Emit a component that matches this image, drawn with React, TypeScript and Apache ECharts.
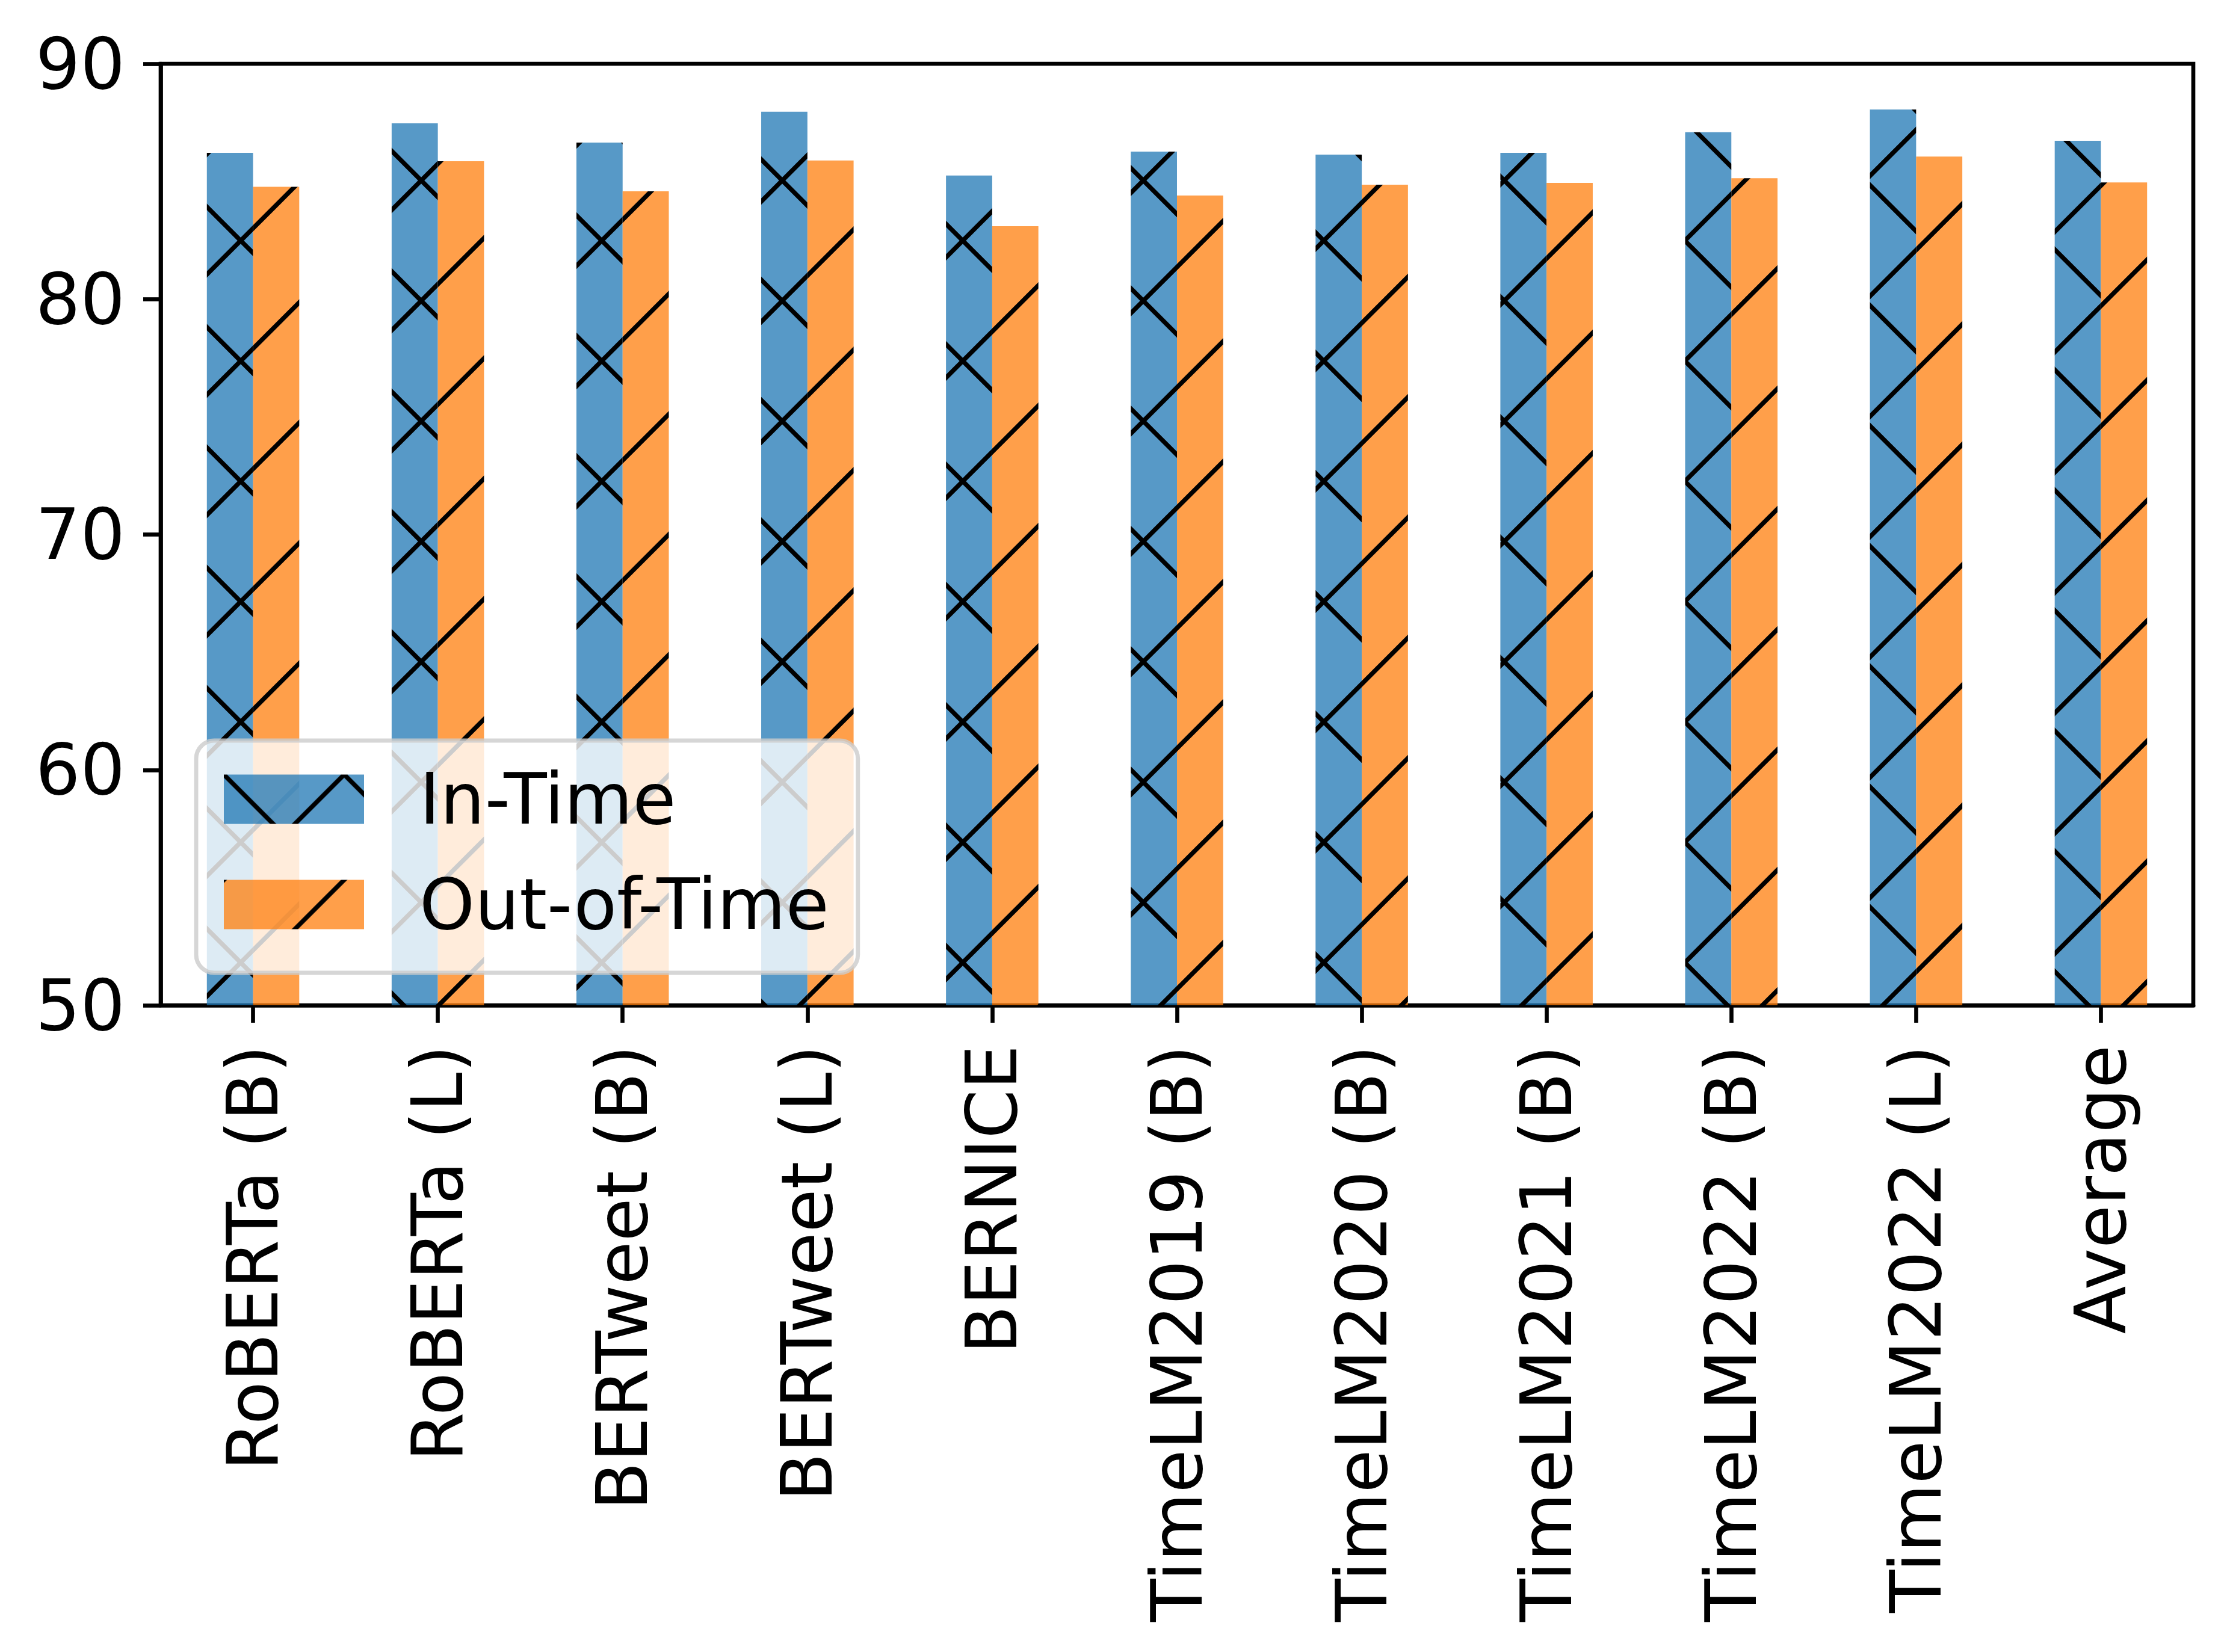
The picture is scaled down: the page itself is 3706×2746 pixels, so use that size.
import React, { useEffect, useRef } from "react";
import * as echarts from "echarts";

const categories = [
  "RoBERTa (B)",
  "RoBERTa (L)",
  "BERTweet (B)",
  "BERTweet (L)",
  "BERNICE",
  "TimeLM2019 (B)",
  "TimeLM2020 (B)",
  "TimeLM2021 (B)",
  "TimeLM2022 (B)",
  "TimeLM2022 (L)",
  "Average",
];
const inTime = [86.22, 87.47, 86.65, 87.96, 85.25, 86.27, 86.14, 86.22, 87.09, 88.06, 86.73];
const outOfTime = [84.77, 85.86, 84.58, 85.89, 83.1, 84.4, 84.86, 84.94, 85.14, 86.06, 84.96];
const seriesNames = ["In-Time", "Out-of-Time"];
const yTicks = [50, 60, 70, 80, 90];

const W = 3706;
const H = 2746;
const FONT = "DejaVu Sans";
const FS = 117;
const SPINE = 6.67;
const TILE = 200;

function hatchTile(fill: string, cross: boolean): string {
  const t = TILE;
  const lw = 7.5;
  const segs: string[] = [];
  // family x + y = e (up-right lines)
  for (const e of [0, t, 2 * t]) {
    segs.push(`M${-20},${e + 20} L${t + 20},${e - t - 20}`);
  }
  if (cross) {
    // family y = x + c (down-right lines)
    for (const c of [-t, 0, t]) {
      segs.push(`M${-20},${c - 20} L${t + 20},${c + t + 20}`);
    }
  }
  const svg =
    `<svg xmlns="http://www.w3.org/2000/svg" width="${t}" height="${t}" viewBox="0 0 ${t} ${t}">` +
    `<rect x="0" y="0" width="${t}" height="${t}" fill="${fill}"/>` +
    `<path d="${segs.join(" ")}" stroke="#000000" stroke-width="${lw}" fill="none"/>` +
    `</svg>`;
  return "data:image/svg+xml;charset=utf-8," + encodeURIComponent(svg);
}

export default function App() {
  const ref = useRef<HTMLDivElement>(null);

  useEffect(() => {
    if (!ref.current) return;
    const chart = echarts.init(ref.current, null, { renderer: "svg", width: W, height: H });

    const bluePattern: any = {
      image: hatchTile("rgba(31,119,180,0.75)", true),
      repeat: "repeat",
      imageWidth: TILE,
      imageHeight: TILE,
    };
    const orangePattern: any = {
      image: hatchTile("rgba(255,127,14,0.75)", false),
      repeat: "repeat",
      imageWidth: TILE,
      imageHeight: TILE,
    };

    const option: any = {
      animation: false,
      backgroundColor: "#ffffff",
      textStyle: { fontFamily: FONT },
      grid: {
        left: 267,
        right: W - 3645,
        top: 106,
        bottom: H - 1671,
        show: true,
        borderColor: "#000000",
        borderWidth: SPINE,
        backgroundColor: "transparent",
        containLabel: false,
      },
      legend: {
        orient: "vertical",
        left: 326,
        top: 1231,
        padding: [39, 48, 55, 46],
        itemWidth: 233,
        itemHeight: 82,
        itemGap: 58,
        icon: "rect",
        selectedMode: false,
        backgroundColor: "rgba(255,255,255,0.8)",
        borderColor: "rgba(204,204,204,0.8)",
        borderWidth: 7,
        borderRadius: 30,
        data: seriesNames,
        textStyle: {
          fontFamily: FONT,
          fontSize: FS,
          color: "#000000",
          lineHeight: 82,
          padding: [0, 0, 0, 87],
        },
      },
      xAxis: {
        type: "category",
        data: categories,
        boundaryGap: true,
        axisLine: { show: true, lineStyle: { color: "#000000", width: SPINE } },
        axisTick: {
          show: true,
          alignWithLabel: true,
          length: 29,
          lineStyle: { color: "#000000", width: SPINE },
        },
        axisLabel: {
          rotate: 90,
          interval: 0,
          margin: 66,
          fontFamily: FONT,
          fontSize: FS,
          color: "#000000",
        },
        splitLine: { show: false },
      },
      yAxis: {
        type: "value",
        min: yTicks[0],
        max: yTicks[yTicks.length - 1],
        interval: 10,
        axisLine: { show: true, lineStyle: { color: "#000000", width: SPINE } },
        axisTick: { show: true, length: 29, lineStyle: { color: "#000000", width: SPINE } },
        axisLabel: {
          margin: 59,
          fontFamily: FONT,
          fontSize: FS,
          color: "#000000",
        },
        splitLine: { show: false },
      },
      series: [
        {
          name: seriesNames[0],
          type: "bar",
          data: inTime,
          barWidth: "25%",
          barGap: "0%",
          itemStyle: { color: bluePattern },
        },
        {
          name: seriesNames[1],
          type: "bar",
          data: outOfTime,
          barWidth: "25%",
          barGap: "0%",
          itemStyle: { color: orangePattern },
        },
      ],
    };

    chart.setOption(option);
    return () => {
      chart.dispose();
    };
  }, []);

  return (
    <div
      ref={ref}
      style={{ position: "absolute", left: 0, top: 0, width: W, height: H, background: "#fff" }}
    />
  );
}
